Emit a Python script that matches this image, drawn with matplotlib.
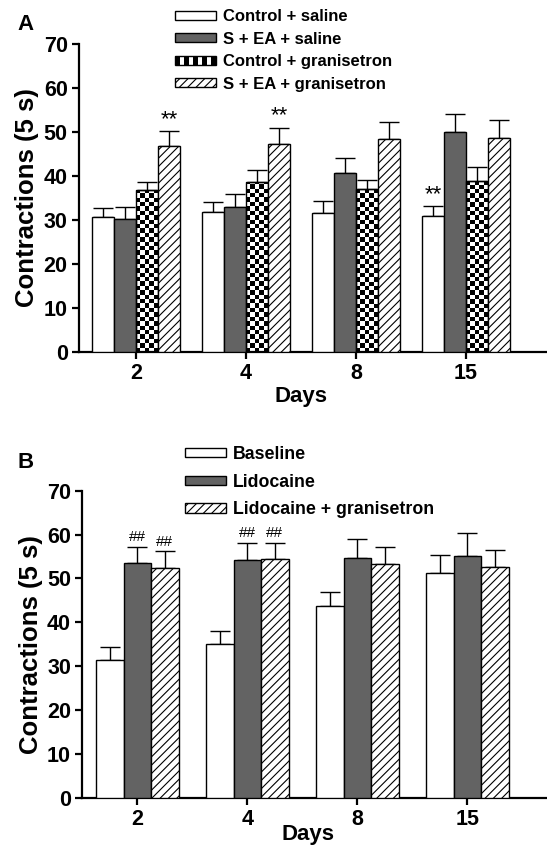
import numpy as np
import matplotlib
matplotlib.use("Agg")
import matplotlib.pyplot as plt
from matplotlib.patches import Rectangle, Patch
from matplotlib.legend_handler import HandlerBase

plt.rcParams['font.family'] = ['Liberation Sans', 'DejaVu Sans']
plt.rcParams['hatch.linewidth'] = 0.8

# Data
days = ["2", "4", "8", "15"]

# Panel A
a_labels = ["Control + saline", "S + EA + saline",
            "Control + granisetron", "S + EA + granisetron"]
a_means = [
    [30.6, 31.7, 31.5, 30.8],
    [30.3, 33.0, 40.6, 50.1],
    [36.7, 38.5, 37.0, 38.8],
    [46.9, 47.2, 48.3, 48.6],
]
a_err = [
    [2.0, 2.4, 2.7, 2.4],
    [2.7, 2.8, 3.5, 4.0],
    [2.0, 2.8, 2.0, 3.2],
    [3.4, 3.8, 4.0, 4.2],
]
# (series index, day index, mark)
a_marks = [(3, 0, "**"), (3, 1, "**"), (0, 3, "**")]

# Panel B
b_labels = ["Baseline", "Lidocaine", "Lidocaine + granisetron"]
b_means = [
    [31.5, 35.0, 43.6, 51.2],
    [53.6, 54.1, 54.6, 55.2],
    [52.3, 54.5, 53.3, 52.5],
]
b_err = [
    [2.8, 3.0, 3.2, 4.1],
    [3.6, 4.0, 4.5, 5.1],
    [3.9, 3.6, 3.9, 3.9],
]
b_marks = [(1, 0, "##"), (2, 0, "##"), (1, 1, "##"), (2, 1, "##")]

DARK = "#636363"


class CheckerHandler(HandlerBase):
    def create_artists(self, legend, orig_handle, xdescent, ydescent,
                       width, height, fontsize, trans):
        arts = [Rectangle((-xdescent, -ydescent), width, height,
                          facecolor="white", edgecolor="black", lw=1,
                          transform=trans)]
        n = 9
        w = width / n
        for k in range(0, n, 2):
            arts.append(Rectangle((-xdescent + k * w, -ydescent), w, height,
                                  facecolor="black", edgecolor="none",
                                  transform=trans))
        return arts


def checker_bars(ax, bars, ncols=5, cell_y=1.0):
    for b in bars:
        x0 = b.get_x()
        w = b.get_width()
        h = b.get_height()
        ny = int(np.ceil(h / cell_y))
        ii, jj = np.indices((ny, ncols))
        board = (ii + jj) % 2
        im = ax.imshow(board, cmap="gray", origin="lower", aspect="auto",
                       interpolation="nearest",
                       extent=(x0, x0 + w, 0, ny * cell_y), zorder=2)
        im.set_clip_path(b)


def style_axes(ax, xlim):
    ax.set_xlim(*xlim)
    ax.set_ylim(0, 70)
    ax.set_yticks(range(0, 71, 10))
    ax.set_xticks(range(len(days)))
    ax.set_xticklabels(days)
    for s in ["top", "right"]:
        ax.spines[s].set_visible(False)
    for s in ["left", "bottom"]:
        ax.spines[s].set_linewidth(1.6)
    ax.tick_params(width=1.6, length=5, labelsize=15.5, pad=3)
    for lab in ax.get_xticklabels() + ax.get_yticklabels():
        lab.set_fontweight("bold")
    ax.set_ylabel("Contractions (5 s)", fontsize=18.5, fontweight="bold",
                  labelpad=3)


fig = plt.figure(figsize=(5.47, 8.5), dpi=100)

# ---- Panel A ----
axA = fig.add_axes([0.144, 0.5862, 0.856, 0.362])
x = np.arange(len(days))
wA = 0.2
styles = [
    dict(facecolor="white"),
    dict(facecolor=DARK),
    dict(facecolor="none"),
    dict(facecolor="white", hatch="////"),
]
handles = []
for i in range(4):
    pos = x + (i - 1.5) * wA
    bars = axA.bar(pos, a_means[i], wA, edgecolor="black", linewidth=1,
                   zorder=3, **styles[i])
    axA.errorbar(pos, a_means[i], yerr=[np.zeros(4), a_err[i]], fmt="none",
                 ecolor="black", elinewidth=1, capsize=7.5, capthick=1,
                 zorder=2.5)
    if i == 2:
        checker_bars(axA, bars)
        handles.append(Patch(facecolor="white", edgecolor="black"))
    else:
        handles.append(Patch(edgecolor="black", **styles[i]))
for si, di, m in a_marks:
    axA.text(x[di] + (si - 1.5) * wA, a_means[si][di] + a_err[si][di] + 0.2,
             m, ha="center", va="bottom", fontsize=16)
style_axes(axA, (-0.521, 3.736))
axA.set_xlabel("Days", fontsize=16, fontweight="bold")
axA.xaxis.set_label_coords(1.5, -0.112, transform=axA.get_xaxis_transform())
axA.legend(handles, a_labels, loc="upper left",
           bbox_to_anchor=(175 / 547, 1 - 9 / 850),
           bbox_transform=fig.transFigure, frameon=False,
           prop={"weight": "bold", "size": 12},
           handlelength=2.45, handleheight=0.45, handletextpad=0.45,
           labelspacing=0.45, borderpad=0, borderaxespad=0,
           handler_map={handles[2]: CheckerHandler()})
fig.text(25 / 547, 1 - 24 / 850, "A", fontsize=16, fontweight="bold",
         ha="center", va="center")

# ---- Panel B ----
axB = fig.add_axes([0.150, 0.0615, 0.850, 0.3612])
wB = 0.25
stylesB = [
    dict(facecolor="white"),
    dict(facecolor=DARK),
    dict(facecolor="white", hatch="////"),
]
handlesB = []
for i in range(3):
    pos = x + (i - 1) * wB
    axB.bar(pos, b_means[i], wB, edgecolor="black", linewidth=1, zorder=3,
            **stylesB[i])
    axB.errorbar(pos, b_means[i], yerr=[np.zeros(4), b_err[i]], fmt="none",
                 ecolor="black", elinewidth=1, capsize=7.5, capthick=1,
                 zorder=2.5)
    handlesB.append(Patch(edgecolor="black", **stylesB[i]))
for si, di, m in b_marks:
    axB.text(x[di] + (si - 1) * wB, b_means[si][di] + b_err[si][di] + 0.6,
             m, ha="center", va="bottom", fontsize=11)
style_axes(axB, (-0.503, 3.725))
axB.set_xlabel("Days", fontsize=16, fontweight="bold")
axB.xaxis.set_label_coords(1.55, -0.085, transform=axB.get_xaxis_transform())
axB.legend(handlesB, b_labels, loc="upper left",
           bbox_to_anchor=(185 / 547, 1 - 446 / 850),
           bbox_transform=fig.transFigure, frameon=False,
           prop={"weight": "bold", "size": 12.8},
           handlelength=2.3, handleheight=0.45, handletextpad=0.4,
           labelspacing=0.6, borderpad=0, borderaxespad=0)
fig.text(26 / 547, 1 - 462 / 850, "B", fontsize=16, fontweight="bold",
         ha="center", va="center")

fig.savefig("out.png", dpi=100)
